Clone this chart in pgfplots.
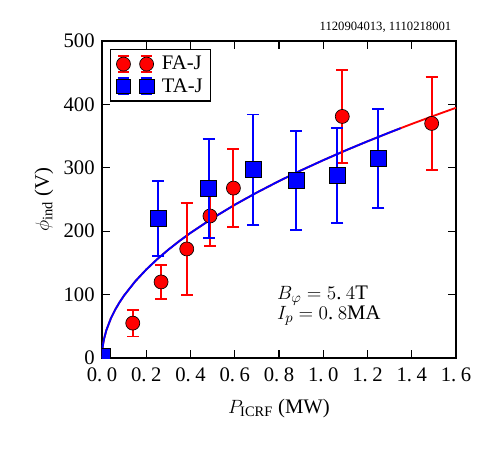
\documentclass[border=0pt]{standalone}
\usepackage{fontspec}
\setmainfont{Liberation Serif}
\usepackage{pgfplots}
\pgfplotsset{compat=1.18}

% FA-J: red circles, TA-J: blue squares (x, y, symmetric error)
\usepackage{pgfplotstable}
\pgfplotstableread{
x      y     e
0.139  55    21
0.267  120   27
0.383  172   72
0.488  224   48
0.594  268   61
1.086  381   73
1.490  370   73
}\faj
\pgfplotstableread{
x      y     e
0.003  2     0
0.255  220   59
0.482  267   78
0.684  297   87
0.877  280   78
1.064  288   75
1.249  315   78
}\taj

% decimal point followed by a small gap
\newcommand{\dpt}{.\hspace{0.22em}}

\begin{document}
\begin{tikzpicture}
\useasboundingbox (-76.5pt,-69pt) rectangle (294.75pt,268.5pt);
\begin{axis}[
  scale only axis, width=265.5pt, height=237.75pt,
  xmin=0, xmax=1.6, ymin=0, ymax=500,
  clip marker paths=true,
  xtick={0,0.2,0.4,0.6,0.8,1.0,1.2,1.4,1.6},
  xticklabels={0\dpt0,0\dpt2,0\dpt4,0\dpt6,0\dpt8,1\dpt0,1\dpt2,1\dpt4,1\dpt6},
  ytick={0,100,200,300,400,500},
  tick align=inside, major tick length=6pt,
  xtick pos=both, ytick pos=both,
  axis line style={line width=1.4pt},
  every tick/.style={black, line width=0.8pt},
  /pgf/number format/assume math mode=true,
  x tick label style={yshift=-3.5pt},
  y tick label style={xshift=-2pt},
  tick label style={font=\fontsize{15.5}{17}\selectfont},
  xlabel={$P_{\mathrm{ICRF}}$ (MW)},
  ylabel={$\phi_{\mathrm{ind}}$ (V)},
  every axis x label/.style={at={(axis description cs:0.5,-0.158)}, anchor=center,
    font=\fontsize{15.5}{17}\selectfont},
  every axis y label/.style={at={(axis description cs:-0.164,0.5)}, rotate=90, anchor=center,
    font=\fontsize{15.5}{17}\selectfont},
  legend style={at={(0.023,0.975)}, anchor=north west, draw=black, line width=1pt,
    font=\fontsize{15.5}{17}\selectfont, inner xsep=4pt, inner ysep=3pt, row sep=1pt,
    column sep=4pt},
  legend cell align=left,
  extra description/.code={
    \node[anchor=south east, font=\fontsize{9.5}{10}\selectfont] at (1,1.012)
      {1120904013, 1110218001};
  },
]
% fitted curves
\addplot[red, line width=1.4pt, forget plot] coordinates {
 (0,0) (0.0025,15.6) (0.005,22.06) (0.01,31.2) (0.02,44.12) (0.04,62.4) (0.06,76.42)
 (0.08,88.25) (0.1,98.66) (0.15,120.84) (0.2,139.53) (0.25,156) (0.3,170.89)
 (0.35,184.58) (0.4,197.33) (0.5,220.62) (0.6,241.68) (0.7,261.04) (0.8,279.06)
 (0.9,295.99) (1.0,312) (1.1,327.23) (1.2,341.78) (1.3,355.73) (1.35,362.51)
 (1.4,369.17) (1.5,382.12) (1.6,394.65)};
\addplot[blue, line width=1.4pt, forget plot] coordinates {
 (0,0) (0.0025,15.6) (0.005,22.06) (0.01,31.2) (0.02,44.12) (0.04,62.4) (0.06,76.42)
 (0.08,88.25) (0.1,98.66) (0.15,120.84) (0.2,139.53) (0.25,156) (0.3,170.89)
 (0.35,184.58) (0.4,197.33) (0.5,220.62) (0.6,241.68) (0.7,261.04) (0.8,279.06)
 (0.9,295.99) (1.0,312) (1.1,327.23) (1.2,341.78) (1.3,355.73) (1.35,362.51)};
% measurements
\addplot[only marks, mark=*, mark size=5.25pt,
  mark options={fill=red, draw=black, line width=0.5pt},
  error bars/.cd, y dir=both, y explicit,
  error bar style={red, line width=1.4pt},
  error mark options={rotate=90, mark size=4.5pt, red, line width=1.4pt},
  /pgfplots/legend image code/.code={
    \draw[red, line width=1.4pt]
      (0.15cm,-0.21cm)--(0.15cm,0.21cm) (0cm,-0.21cm)--(0.3cm,-0.21cm) (0cm,0.21cm)--(0.3cm,0.21cm)
      (0.76cm,-0.21cm)--(0.76cm,0.21cm) (0.61cm,-0.21cm)--(0.91cm,-0.21cm) (0.61cm,0.21cm)--(0.91cm,0.21cm);
    \path plot[mark=*, mark size=5.25pt, mark options={fill=red, draw=black, line width=0.5pt}]
      coordinates {(0.15cm,0cm) (0.76cm,0cm)};
  },
] table[x=x, y=y, y error=e] {\faj};
\addlegendentry{FA-J}
\addplot[only marks, mark=square*, mark size=6pt,
  mark options={fill=blue, draw=black, line width=0.5pt},
  error bars/.cd, y dir=both, y explicit,
  error bar style={blue, line width=1.4pt},
  error mark options={rotate=90, mark size=4.5pt, blue, line width=1.4pt},
  /pgfplots/legend image code/.code={
    \draw[blue, line width=1.4pt]
      (0.15cm,-0.21cm)--(0.15cm,0.21cm) (0cm,-0.21cm)--(0.3cm,-0.21cm) (0cm,0.21cm)--(0.3cm,0.21cm)
      (0.76cm,-0.21cm)--(0.76cm,0.21cm) (0.61cm,-0.21cm)--(0.91cm,-0.21cm) (0.61cm,0.21cm)--(0.91cm,0.21cm);
    \path plot[mark=square*, mark size=5.5pt, mark options={fill=blue, draw=black, line width=0.5pt}]
      coordinates {(0.15cm,0cm) (0.76cm,0cm)};
  },
] table[x=x, y=y, y error=e] {\taj};
\addlegendentry{TA-J}
% operating conditions
\node[anchor=west, font=\fontsize{15.5}{17}\selectfont, align=left] at (axis cs:0.77,82)
  {$B_{\varphi}=5$\dpt$4$T\\[-2pt]$I_{p}=0$\dpt$8$MA};
\end{axis}
\end{tikzpicture}
\end{document}
